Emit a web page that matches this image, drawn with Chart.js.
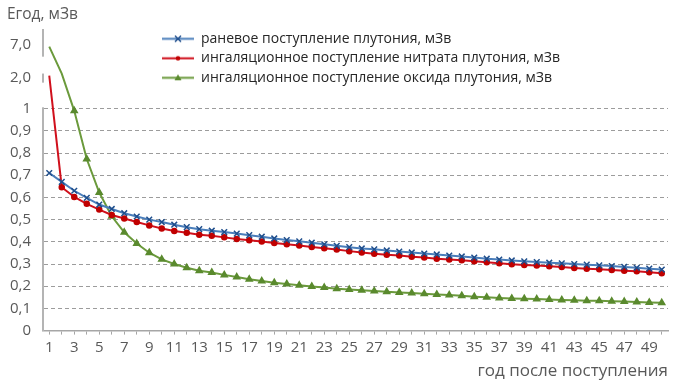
<!DOCTYPE html>
<html>
<head>
<meta charset="utf-8">
<script src="https://cdn.jsdelivr.net/npm/chart.js@4.4.1/dist/chart.umd.min.js"></script>
<style>
  html, body { margin: 0; padding: 0; background: #fff; }
  #wrap { width: 679px; height: 385px; }
</style>
</head>
<body>
<div id="wrap"><canvas id="chart"></canvas></div>
<script>
// year after intake, 1..50
const years = Array.from({length: 50}, (_, i) => String(i + 1));

// effective dose per year, mSv
const woundIntake = [
  0.71, 0.67, 0.63, 0.598, 0.568, 0.548, 0.529, 0.514, 0.500, 0.489,
  0.477, 0.466, 0.457, 0.450, 0.444, 0.437, 0.430, 0.423, 0.415, 0.408,
  0.402, 0.396, 0.389, 0.382, 0.376, 0.370, 0.366, 0.361, 0.356, 0.352,
  0.347, 0.343, 0.338, 0.334, 0.329, 0.324, 0.320, 0.316, 0.312, 0.309,
  0.306, 0.303, 0.300, 0.297, 0.294, 0.291, 0.287, 0.283, 0.279, 0.275
];
const nitrateInhal = [
  2.3, 0.646, 0.602, 0.571, 0.545, 0.521, 0.505, 0.489, 0.474, 0.460,
  0.449, 0.441, 0.432, 0.427, 0.420, 0.413, 0.407, 0.401, 0.395, 0.389,
  0.383, 0.377, 0.371, 0.365, 0.358, 0.352, 0.346, 0.342, 0.338, 0.333,
  0.329, 0.324, 0.320, 0.317, 0.312, 0.308, 0.303, 0.299, 0.296, 0.293,
  0.290, 0.286, 0.282, 0.279, 0.276, 0.273, 0.270, 0.267, 0.263, 0.258
];
const oxideInhal = [
  6.7, 2.6, 0.99, 0.773, 0.622, 0.515, 0.443, 0.392, 0.351, 0.321,
  0.300, 0.283, 0.270, 0.262, 0.251, 0.241, 0.231, 0.223, 0.216, 0.210,
  0.204, 0.199, 0.194, 0.189, 0.185, 0.182, 0.178, 0.175, 0.172, 0.169,
  0.166, 0.163, 0.160, 0.157, 0.153, 0.150, 0.147, 0.145, 0.144, 0.142,
  0.140, 0.138, 0.137, 0.135, 0.134, 0.132, 0.131, 0.129, 0.127, 0.125
];

const seriesNames = [
  'раневое поступление плутония, мЗв',
  'ингаляционное поступление нитрата плутония, мЗв',
  'ингаляционное поступление оксида плутония, мЗв'
];

const yTickValues = [0, 0.1, 0.2, 0.3, 0.4, 0.5, 0.6, 0.7, 0.8, 0.9, 1, 2, 7];
const yTickLabels = ['0', '0,1', '0,2', '0,3', '0,4', '0,5', '0,6', '0,7', '0,8', '0,9', '1', '2,0', '7,0'];

// broken axis: above 1 the scale is squeezed
const BREAK_2 = 1.14;
const BREAK_7 = 1.288;
const Y_TOP = 1.356;
function toAxis(v) {
  if (v <= 1) return v;
  if (v <= 2) return 1 + (v - 1) * (BREAK_2 - 1);
  return BREAK_2 + (v - 2) * (BREAK_7 - BREAK_2) / 5;
}
// gaps in the axis line (axis units)
const axisGaps = [[1.006, 1.117], [1.158, 1.234]];

const FONT = 'Open Sans';
const GREY = '#595959';
const GRID = '#9c9c9c';

const styles = [
  {line: '#4A7EBB', mark: '#1F4E8C', shape: 'crossRot', r: 4},
  {line: '#D0101C', mark: '#C00000', shape: 'circle', r: 2.5},
  {line: '#6B9A3C', mark: '#5A8A2E', shape: 'triangle', r: 3.5}
];

// little "line + marker" pictures for the legend
function legendIcon(st) {
  const c = document.createElement('canvas');
  c.width = 32; c.height = 11;
  const g = c.getContext('2d');
  g.strokeStyle = st.line; g.lineWidth = 2;
  g.beginPath(); g.moveTo(0, 5.5); g.lineTo(32, 5.5); g.stroke();
  g.fillStyle = st.mark; g.strokeStyle = st.mark; g.lineWidth = 1.5;
  if (st.shape === 'crossRot') {
    g.beginPath();
    g.moveTo(13, 2.5); g.lineTo(19, 8.5);
    g.moveTo(19, 2.5); g.lineTo(13, 8.5);
    g.stroke();
  } else if (st.shape === 'circle') {
    g.beginPath(); g.arc(16, 5.5, 2.3, 0, Math.PI * 2); g.fill();
  } else {
    g.beginPath(); g.moveTo(16, 2); g.lineTo(19.5, 8); g.lineTo(12.5, 8); g.closePath(); g.fill();
  }
  return c;
}
const legendIcons = styles.map(legendIcon);

function makeDataset(name, values, st) {
  return {
    label: name,
    data: values.map(toAxis),
    borderColor: st.line,
    borderWidth: 2,
    backgroundColor: st.mark,
    pointStyle: st.shape,
    pointRadius: ctx => values[ctx.dataIndex] > 1 ? 0 : st.r,
    pointBorderColor: st.mark,
    pointBackgroundColor: st.mark,
    pointBorderWidth: 1.5,
    tension: 0
  };
}

const placeLegend = {
  id: 'placeLegend',
  afterLayout(chart) {
    const lg = chart.legend;
    const w = lg.width, h = lg.height;
    lg.left = 156.5; lg.top = 26.3;
    lg.right = lg.left + w; lg.bottom = lg.top + h;
  }
};

const axisBreak = {
  id: 'axisBreak',
  afterDraw(chart) {
    const y = chart.scales.y, ctx = chart.ctx;
    ctx.save();
    ctx.fillStyle = '#fff';
    axisGaps.forEach(([a, b]) => {
      const p1 = y.getPixelForValue(b), p2 = y.getPixelForValue(a);
      ctx.fillRect(y.right - 3, p1, 6, p2 - p1);
    });
    ctx.restore();
  }
};

new Chart(document.getElementById('chart'), {
  type: 'line',
  data: {
    labels: years,
    datasets: [
      makeDataset(seriesNames[0], woundIntake, styles[0]),
      makeDataset(seriesNames[1], nitrateInhal, styles[1]),
      makeDataset(seriesNames[2], oxideInhal, styles[2])
    ]
  },
  options: {
    responsive: true,
    maintainAspectRatio: false,
    animation: false,
    layout: { padding: { left: 7, right: 11, top: 0, bottom: 4 } },
    plugins: {
      title: {
        display: true,
        text: 'Егод, мЗв',
        align: 'start',
        color: GREY,
        font: { family: FONT, size: 15.5, weight: 'normal' },
        padding: { top: 5, bottom: 6 }
      },
      legend: {
        position: 'chartArea',
        align: 'start',
        labels: {
          usePointStyle: true,
          pointStyleWidth: 32,
          padding: 5.5,
          color: '#262626',
          font: { family: FONT, size: 14 },
          generateLabels: chart => Chart.defaults.plugins.legend.labels.generateLabels(chart)
            .map((item, i) => Object.assign(item, { pointStyle: legendIcons[i] }))
        }
      },
      tooltip: { enabled: false }
    },
    scales: {
      x: {
        type: 'category',
        offset: true,
        grid: { display: true, drawOnChartArea: false, drawTicks: true, tickLength: 4, offset: false, color: '#a6a6a6' },
        border: { color: '#a6a6a6', width: 1.5 },
        ticks: {
          autoSkip: false,
          maxRotation: 0,
          padding: 4,
          color: GREY,
          font: { family: FONT, size: 15 },
          callback: (v, i) => i % 2 === 0 ? years[i] : ''
        },
        title: {
          display: true,
          text: 'год после поступления',
          align: 'end',
          color: GREY,
          font: { family: FONT, size: 17 },
          padding: { top: 0, bottom: 0 }
        }
      },
      y: {
        min: 0,
        max: Y_TOP,
        afterBuildTicks: s => { s.ticks = yTickValues.map(v => ({ value: toAxis(v) })); },
        afterFit: s => { s.width = 36; },
        ticks: {
          padding: 12,
          color: GREY,
          font: { family: FONT, size: 15 },
          callback: (v, i) => yTickLabels[i]
        },
        grid: {
          drawTicks: false,
          lineWidth: 1,
          borderDash: [4, 3],
          color: ctx => (ctx.index >= 1 && ctx.index <= 10) ? GRID : 'rgba(0,0,0,0)'
        },
        border: { display: true, color: '#b4b4b4', width: 2, dash: [4, 3] }
      }
    }
  },
  plugins: [placeLegend, axisBreak]
});
</script>
</body>
</html>
